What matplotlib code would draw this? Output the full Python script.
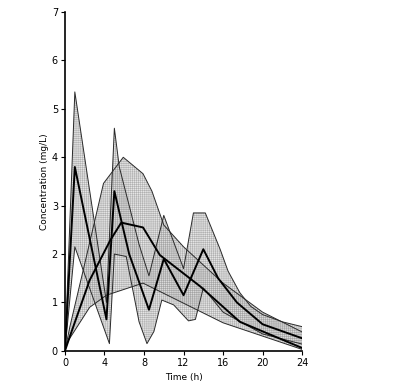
import numpy as np
import matplotlib
matplotlib.use("Agg")
import matplotlib.pyplot as plt

# regimen A (repeated doses) - upper, median, lower
a_up_t = [0, 1, 4.2, 5, 5.5, 6.5, 7.5, 8.5, 10, 12, 13, 14.2, 15.0, 15.7, 16.5, 17.7, 18.8, 20, 22, 24]
a_up_v = [0, 5.35, 1.0, 4.6, 3.8, 3.0, 2.2, 1.55, 2.8, 1.7, 2.85, 2.85, 2.45, 2.1, 1.65, 1.2, 0.92, 0.75, 0.6, 0.5]
a_med_t = [0, 1, 4.2, 5, 6.5, 8.5, 10, 12, 14, 15.5, 17.4, 20, 24]
a_med_v = [0, 3.8, 0.65, 3.3, 2.0, 0.85, 1.9, 1.15, 2.1, 1.5, 1.0, 0.55, 0.26]
a_lo_t = [0, 1, 4.5, 5, 6.2, 7.5, 8.3, 9, 9.8, 11, 12.5, 13.2, 14, 16, 20, 24]
a_lo_v = [0, 2.15, 0.15, 2.0, 1.95, 0.6, 0.15, 0.4, 1.05, 0.95, 0.62, 0.65, 1.3, 0.8, 0.35, 0.14]

# regimen B (single slow release) - upper, median, lower
b_up_t = [0, 0.5, 2, 3.9, 5.9, 7.9, 8.8, 10, 12, 16, 20, 24]
b_up_v = [0, 0.5, 1.8, 3.46, 4.0, 3.66, 3.3, 2.6, 2.15, 1.4, 0.8, 0.39]
b_med_t = [0, 0.5, 2.5, 4.6, 5.7, 7.9, 9.6, 13.7, 17.7, 24]
b_med_v = [0, 0.3, 1.46, 2.29, 2.65, 2.55, 1.98, 1.33, 0.6, 0.06]
b_lo_t = [0, 0.3, 2.5, 4.2, 7.9, 16, 24]
b_lo_v = [0, 0.2, 0.9, 1.15, 1.4, 0.58, 0.03]

plt.rcParams['hatch.linewidth'] = 0.4

fig = plt.figure(figsize=(3.96, 3.89), dpi=100)
ax = fig.add_axes([0.164, 0.098, 0.599, 0.871])

for up_t, up_v, lo_t, lo_v in [(a_up_t, a_up_v, a_lo_t, a_lo_v),
                               (b_up_t, b_up_v, b_lo_t, b_lo_v)]:
    xs = np.concatenate([up_t, lo_t[::-1]])
    ys = np.concatenate([up_v, lo_v[::-1]])
    ax.fill(xs, ys, facecolor='#d4d4d4', alpha=0.6, hatch='++++++++',
            edgecolor='#8f8f8f', linewidth=0)
    ax.plot(up_t, up_v, color='#2a2a2a', lw=0.7)
    ax.plot(lo_t, lo_v, color='#2a2a2a', lw=0.7)

ax.plot(a_med_t, a_med_v, color='black', lw=1.4)
ax.plot(b_med_t, b_med_v, color='black', lw=1.4)

ax.set_xlim(0, 24)
ax.set_ylim(0, 7)
ax.set_xticks(range(0, 25, 4))
ax.set_yticks(range(0, 8))
ax.spines['top'].set_visible(False)
ax.spines['right'].set_visible(False)
ax.spines['left'].set_linewidth(1.2)
ax.spines['bottom'].set_linewidth(1.2)
ax.tick_params(direction='out', length=3, width=0.8, labelsize=7, pad=2)
ax.set_xlabel('Time (h)', fontsize=6.5, labelpad=4)
ax.set_ylabel('Concentration (mg/L)', fontsize=6.5, labelpad=2)

fig.savefig('out.png', dpi=100)
